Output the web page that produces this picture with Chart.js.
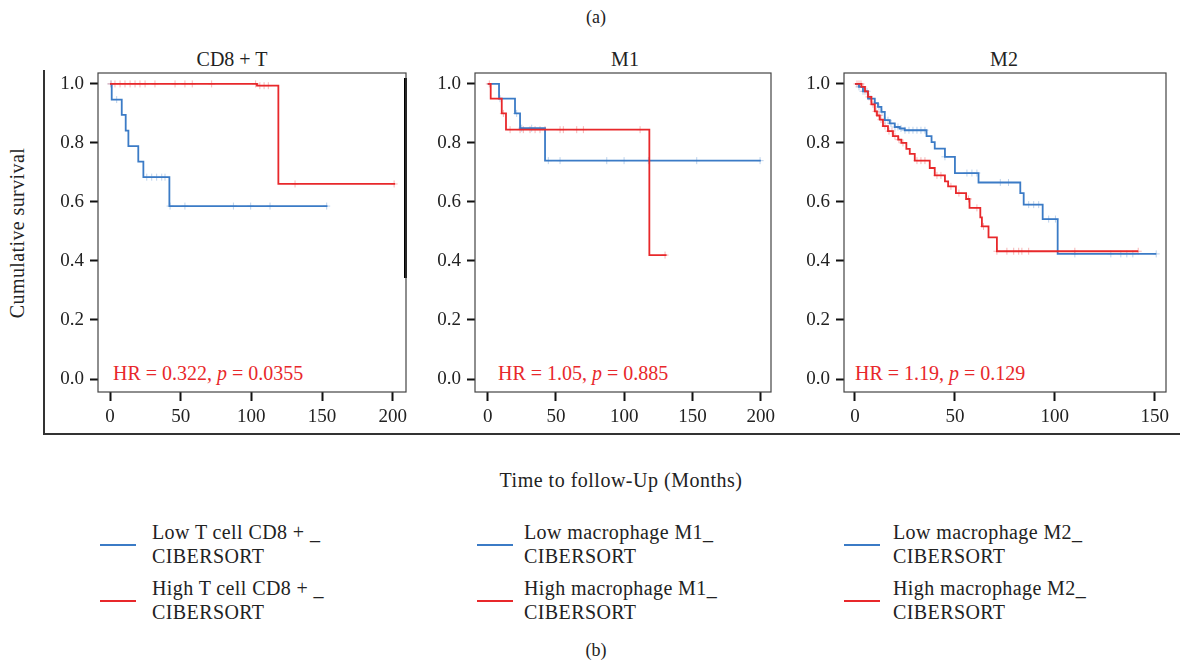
<!DOCTYPE html>
<html><head><meta charset="utf-8">
<script src="https://cdn.jsdelivr.net/npm/chart.js@4.4.1/dist/chart.umd.min.js"></script>
<style>
body{margin:0;width:1191px;height:665px;background:#fff;position:relative;overflow:hidden;font-family:"Liberation Serif","Times New Roman",serif;color:#222}
.c{position:absolute;white-space:nowrap;transform:translate(-50%,-50%)}
.l{position:absolute;white-space:nowrap}
canvas{position:absolute}
</style></head><body>
<div id="root"></div>
<script>
// ---------- DATA ----------
const panelTitles = ['CD8 + T', 'M1', 'M2'];
const hrValues = ['0.322', '1.05', '1.19'];
const pValues = ['0.0355', '0.885', '0.129'];
const lowLabels = ['Low T cell CD8 + _', 'Low macrophage M1_', 'Low macrophage M2_'];
const highLabels = ['High T cell CD8 + _', 'High macrophage M1_', 'High macrophage M2_'];
const labelSuffix = 'CIBERSORT';
const yTicks = [0, 0.2, 0.4, 0.6, 0.8, 1.0];
const xTicksCD8 = [0, 50, 100, 150, 200];
const xTicksM1 = [0, 50, 100, 150, 200];
const xTicksM2 = [0, 50, 100, 150];

// CD8+ T
const cd8LowTime = [0, 1.2, 8.3, 11.1, 13, 20, 23.6, 42, 153.8];
const cd8LowSurv = [1, 0.947, 0.895, 0.842, 0.789, 0.737, 0.684, 0.586, 0.586];
const cd8LowCens = [0.7, 4.7, 26, 29.5, 33, 36.6, 38.9, 42.5, 53, 87.3, 99.5, 113.2, 153.3];
const cd8HighTime = [0, 104, 119.1, 201.7];
const cd8HighSurv = [1, 0.994, 0.661, 0.661];
const cd8HighCens = [0.7, 3.5, 7.1, 10.6, 14.2, 17.7, 21.2, 24.8, 31.8, 46, 53, 58.2, 71.9, 103, 106, 109, 112, 130.9, 201];

// M1
const m1LowTime = [0, 8.3, 20, 23.7, 42, 200];
const m1LowSurv = [1, 0.95, 0.9, 0.85, 0.74, 0.74];
const m1LowCens = [9, 21.2, 24.9, 32.2, 44.4, 53, 87.2, 99.9, 117.7, 153.1, 199.5];
const m1HighTime = [0, 2.2, 10.3, 13.4, 118.4, 131];
const m1HighSurv = [1, 0.95, 0.9, 0.845, 0.42, 0.42];
const m1HighCens = [1.2, 11.5, 16.4, 23.7, 26.1, 31, 34.7, 38.3, 42, 53, 55.4, 65.2, 70.1, 111.6, 129.9];

// M2
const m2LowTime = [0, 2, 4, 6.5, 9.9, 11.5, 13.2, 14.9, 17.4, 19.9, 22.4, 24.9, 35.8, 38.3, 39.9, 45, 50, 61.8, 82.7, 84.4, 93.9, 101.4, 150.7];
const m2LowSurv = [1, 0.99, 0.975, 0.95, 0.935, 0.922, 0.905, 0.877, 0.866, 0.854, 0.849, 0.843, 0.823, 0.803, 0.781, 0.753, 0.698, 0.666, 0.63, 0.591, 0.542, 0.424, 0.424];
const m2LowCens = [2, 4, 6, 8, 10, 12, 13.5, 15, 16.5, 18, 20, 21.5, 23, 25, 27, 29, 31, 33, 35, 45, 56, 58.5, 61, 72.7, 76.8, 86.9, 89.4, 91.9, 96.9, 100.3, 110, 128, 133, 136, 139, 150.7];
const m2HighTime = [0, 3.2, 5, 6.5, 8.2, 9.9, 11, 12.4, 14, 16.5, 19, 21.6, 23.2, 25.7, 27.4, 29.9, 37.4, 39.9, 45, 46.6, 50.5, 55.6, 57.3, 62.7, 63.5, 66.8, 71, 141.7];
const m2HighSurv = [1, 0.99, 0.975, 0.956, 0.931, 0.907, 0.893, 0.879, 0.857, 0.84, 0.823, 0.811, 0.8, 0.78, 0.763, 0.74, 0.715, 0.69, 0.67, 0.653, 0.63, 0.61, 0.58, 0.548, 0.517, 0.48, 0.433, 0.433];
const m2HighCens = [1, 2, 3, 4, 5, 7, 9, 10.5, 12, 13, 15, 17, 18.5, 20, 22, 24, 31, 33, 35, 41, 43, 48, 52, 56.8, 61, 64.3, 71, 76, 79.4, 81.9, 83.5, 86.9, 110, 141.7];

// ---------- STYLE / LAYOUT ----------
const BLUE = '#3b7bc6', RED = '#e8282b';
const BLUE_L = 'rgba(59,123,198,0.35)', RED_L = 'rgba(232,40,43,0.35)';
const FONT = 'Liberation Serif';

const panels = [
  {lowT: cd8LowTime, lowS: cd8LowSurv, lowC: cd8LowCens, highT: cd8HighTime, highS: cd8HighSurv, highC: cd8HighCens,
   xTicks: xTicksCD8, xMin: -8.5, xMax: 209.4, canvasLeft: 45, areaLeft: 98, areaRight: 406, titleX: 232, hrX: 113,
   legSw: 100, legTx: 152},
  {lowT: m1LowTime, lowS: m1LowSurv, lowC: m1LowCens, highT: m1HighTime, highS: m1HighSurv, highC: m1HighCens,
   xTicks: xTicksM1, xMin: -9.3, xMax: 207.5, canvasLeft: 425, areaLeft: 475, areaRight: 771, titleX: 625, hrX: 498,
   legSw: 477, legTx: 524},
  {lowT: m2LowTime, lowS: m2LowSurv, lowC: m2LowCens, highT: m2HighTime, highS: m2HighSurv, highC: m2HighCens,
   xTicks: xTicksM2, xMin: -5.5, xMax: 155.6, canvasLeft: 795, areaLeft: 844, areaRight: 1166, titleX: 1004, hrX: 855,
   legSw: 844, legTx: 893}
];
const AREA_TOP = 73, AREA_BOTTOM = 392, CANVAS_TOP = 50, CANVAS_BOTTOM = 432;
const Y_MIN = -0.044, Y_MAX = 1.037;

const root = document.getElementById('root');
function addDiv(cls, style, html) {
  const d = document.createElement('div');
  d.className = cls; d.setAttribute('style', style); d.innerHTML = html;
  root.appendChild(d); return d;
}

// static texts
addDiv('c', 'left:596px;top:17px;font-size:18px', '(a)');
addDiv('c', 'left:596px;top:650px;font-size:18px', '(b)');
addDiv('c', 'left:621px;top:480px;font-size:20px;letter-spacing:0.5px', 'Time to follow-Up (Months)');
addDiv('c', 'left:17px;top:233px;font-size:20px;letter-spacing:0.4px;transform:translate(-50%,-50%) rotate(-90deg)', 'Cumulative survival');
// outer frame lines
addDiv('l', 'left:43px;top:70px;width:1.5px;height:365px;background:#333', '');
addDiv('l', 'left:43px;top:433px;width:1137px;height:1.5px;background:#333', '');
// dark bar artifact at right of first panel
addDiv('l', 'left:404px;top:78px;width:3px;height:200px;background:#000', '');

function toXY(t, s) { return t.map((v, i) => ({x: v, y: s[i]})); }
function censXY(c, t, s) {
  return c.map(ct => {
    let y = s[0];
    for (let i = 0; i < t.length; i++) { if (t[i] <= ct) y = s[i]; }
    return {x: ct, y: y};
  });
}

const framePlugin = {
  id: 'frame',
  afterDraw(chart) {
    const a = chart.chartArea, ctx = chart.ctx;
    ctx.save(); ctx.strokeStyle = '#444'; ctx.lineWidth = 1.2;
    ctx.strokeRect(a.left, a.top, a.right - a.left, a.bottom - a.top);
    ctx.restore();
  }
};

panels.forEach((p, i) => {
  addDiv('c', `left:${p.titleX}px;top:59px;font-size:20px`, panelTitles[i]);
  addDiv('l', `left:${p.hrX}px;top:361px;font-size:20px;color:${RED};line-height:24px`,
    `HR = ${hrValues[i]}, <i>p</i> = ${pValues[i]}`);
  addDiv('l', `left:${p.legSw}px;top:544px;width:36px;height:2px;background:${BLUE}`, '');
  addDiv('l', `left:${p.legSw}px;top:600px;width:36px;height:2px;background:${RED}`, '');
  addDiv('l', `left:${p.legTx}px;top:520px;font-size:20px;letter-spacing:0.4px;line-height:24px`, lowLabels[i] + '<br>' + labelSuffix);
  addDiv('l', `left:${p.legTx}px;top:576px;font-size:20px;letter-spacing:0.4px;line-height:24px`, highLabels[i] + '<br>' + labelSuffix);

  const cw = p.areaRight - p.canvasLeft + 20;
  const ch = CANVAS_BOTTOM - CANVAS_TOP;
  const cv = document.createElement('canvas');
  cv.width = cw; cv.height = ch;
  cv.style.left = p.canvasLeft + 'px'; cv.style.top = CANVAS_TOP + 'px';
  cv.style.width = cw + 'px'; cv.style.height = ch + 'px';
  root.appendChild(cv);

  const yW = p.areaLeft - p.canvasLeft;
  const xH = CANVAS_BOTTOM - AREA_BOTTOM;
  new Chart(cv, {
    type: 'line',
    data: {datasets: [
      {label: highLabels[i] + labelSuffix, data: toXY(p.highT, p.highS), stepped: 'before', borderColor: RED, borderWidth: 1.8, pointRadius: 0, fill: false},
      {label: lowLabels[i] + labelSuffix, data: toXY(p.lowT, p.lowS), stepped: 'before', borderColor: BLUE, borderWidth: 1.8, pointRadius: 0, fill: false},
      {label: 'high censored', data: censXY(p.highC, p.highT, p.highS), showLine: false, pointStyle: 'cross', pointRadius: 3.5, borderColor: RED_L, backgroundColor: RED_L, pointBorderWidth: 1},
      {label: 'low censored', data: censXY(p.lowC, p.lowT, p.lowS), showLine: false, pointStyle: 'cross', pointRadius: 3.5, borderColor: BLUE_L, backgroundColor: BLUE_L, pointBorderWidth: 1}
    ]},
    options: {
      responsive: false, animation: false, devicePixelRatio: 1,
      layout: {padding: {top: AREA_TOP - CANVAS_TOP, right: cw - (p.areaRight - p.canvasLeft), left: 0, bottom: 0}},
      plugins: {legend: {display: false}, tooltip: {enabled: false}},
      scales: {
        x: {
          type: 'linear', min: p.xMin, max: p.xMax,
          afterBuildTicks: s => { s.ticks = p.xTicks.map(v => ({value: v})); },
          afterFit: s => { s.height = xH; s.paddingLeft = 0; s.paddingRight = 0; },
          ticks: {font: {family: FONT, size: 19}, color: '#222', padding: 5, maxRotation: 0, autoSkip: false, callback: v => String(v)},
          grid: {drawOnChartArea: false, drawTicks: true, tickLength: 9, tickWidth: 2, tickColor: '#111'},
          border: {display: false}
        },
        y: {
          type: 'linear', min: Y_MIN, max: Y_MAX,
          afterBuildTicks: s => { s.ticks = yTicks.map(v => ({value: v})); },
          afterFit: s => { s.width = yW; s.paddingTop = 0; s.paddingBottom = 0; },
          ticks: {font: {family: FONT, size: 19}, color: '#222', padding: 6, autoSkip: false, callback: v => Number(v).toFixed(1)},
          grid: {drawOnChartArea: false, drawTicks: true, tickLength: 8, tickWidth: 2, tickColor: '#111'},
          border: {display: false}
        }
      }
    },
    plugins: [framePlugin]
  });
});
</script>
</body></html>
